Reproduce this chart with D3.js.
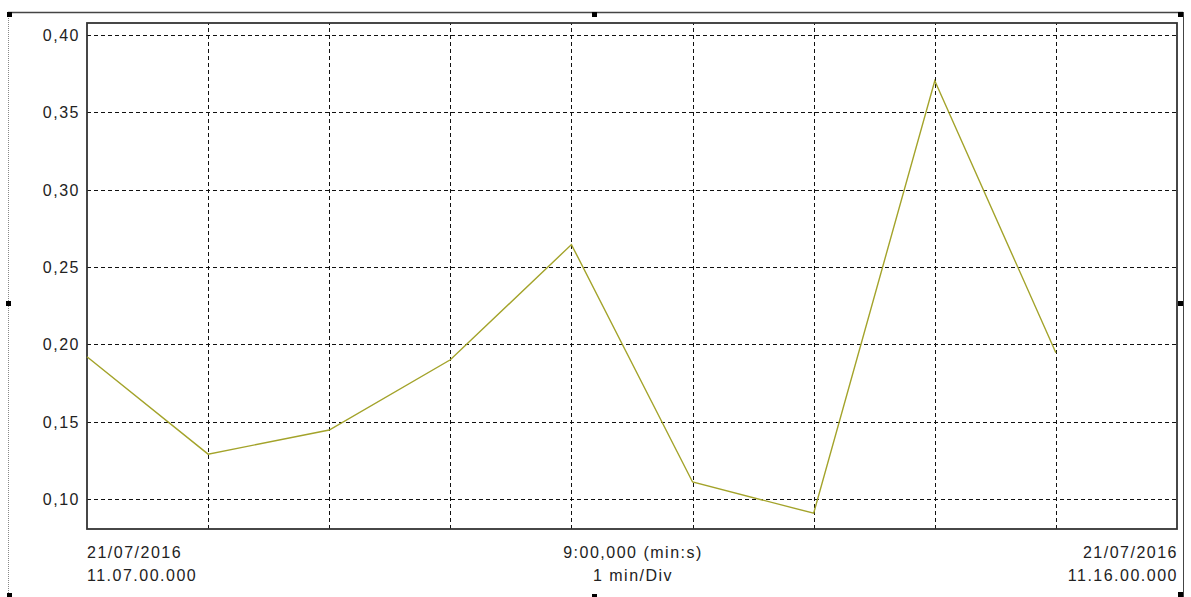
<!DOCTYPE html>
<html><head><meta charset="utf-8">
<script src="https://cdn.jsdelivr.net/npm/d3@7/dist/d3.min.js"></script>
<style>
html,body{margin:0;padding:0;background:#fff;}
svg{display:block;}
text{font-family:"Liberation Sans",Arial,sans-serif;font-size:16px;fill:#222;letter-spacing:1.5px;}
</style></head>
<body>
<svg id="chart" width="1191" height="597"></svg>
<script>
// Data
const minutes = [0, 1, 2, 3, 4, 5, 6, 7, 8];           // minutes after 11.07.00
const values  = [0.192, 0.129, 0.1446, 0.190, 0.2645, 0.111, 0.0908, 0.3704, 0.1946];
const yTicks  = [0.10, 0.15, 0.20, 0.25, 0.30, 0.35, 0.40];
const xGrid   = [1, 2, 3, 4, 5, 6, 7, 8];
const startLabel = ["21/07/2016", "11.07.00.000"];
const endLabel   = ["21/07/2016", "11.16.00.000"];
const midLabel   = ["9:00,000 (min:s)", "1 min/Div"];

const svg = d3.select("#chart");
const L = 87, R = 1177, T = 23, B = 529;

const x = d3.scaleLinear().domain([0, 9]).range([L, R]);
const y = d3.scaleLinear().domain([0.10, 0.40]).range([499, 35]);

// outer frame
svg.append("line").attr("x1", 8).attr("x2", 1183).attr("y1", 12.5).attr("y2", 12.5)
  .attr("stroke", "#444").attr("stroke-width", 1.5);
svg.append("line").attr("x1", 8.5).attr("x2", 8.5).attr("y1", 12).attr("y2", 597)
  .attr("stroke", "#888").attr("stroke-width", 1).attr("stroke-dasharray", "1,1");
svg.append("line").attr("x1", 1183.5).attr("x2", 1183.5).attr("y1", 12).attr("y2", 597)
  .attr("stroke", "#444").attr("stroke-width", 1);
const handles = [[7,12],[592,12],[1178,12],[6,301],[1178,301],[7,593],[592,594],[1178,592]];
svg.selectAll("rect.h").data(handles).join("rect").attr("class","h")
  .attr("x", d => d[0]).attr("y", d => d[1]).attr("width", 5).attr("height", 5).attr("fill", "#000");

// gridlines
const g = svg.append("g").attr("shape-rendering", "crispEdges");
g.append("g").attr("transform", `translate(${L},0)`)
  .call(d3.axisLeft(y).tickValues(yTicks).tickSize(-(R - L)).tickFormat(""))
  .call(s => s.select(".domain").remove())
  .call(s => s.selectAll(".tick line").attr("stroke", "#111").attr("stroke-width", 1).attr("stroke-dasharray", "4,3"));
g.append("g").attr("transform", `translate(0,${B})`)
  .call(d3.axisBottom(x).tickValues(xGrid).tickSize(-(B - T)).tickFormat(""))
  .call(s => s.select(".domain").remove())
  .call(s => s.selectAll(".tick line").attr("stroke", "#111").attr("stroke-width", 1).attr("stroke-dasharray", "4,3"));

// y labels
const fmt = d => d3.format(".2f")(d).replace(".", ",");
svg.selectAll("text.yl").data(yTicks).join("text").attr("class","yl")
  .attr("x", 80).attr("y", d => y(d) + 6).attr("text-anchor", "end").text(fmt);

// plot box
svg.append("rect").attr("x", L).attr("y", T).attr("width", R - L).attr("height", B - T)
  .attr("fill", "none").attr("stroke", "#333").attr("stroke-width", 1.8);

// line
const line = d3.line().x((d, i) => x(minutes[i])).y(d => y(d));
svg.append("path").datum(values).attr("d", line).attr("fill", "none")
  .attr("stroke", "#a3a32a").attr("stroke-width", 1.4);

// bottom labels
const bl = [558, 581];
svg.selectAll("text.sl").data(startLabel).join("text").attr("class","sl")
  .attr("x", L).attr("y", (d, i) => bl[i]).text(d => d);
svg.selectAll("text.el").data(endLabel).join("text").attr("class","el")
  .attr("x", R + 1).attr("y", (d, i) => bl[i]).attr("text-anchor", "end").text(d => d);
svg.selectAll("text.ml").data(midLabel).join("text").attr("class","ml")
  .attr("x", (L + R) / 2 + 1).attr("y", (d, i) => bl[i]).attr("text-anchor", "middle").text(d => d);
</script>
</body></html>
